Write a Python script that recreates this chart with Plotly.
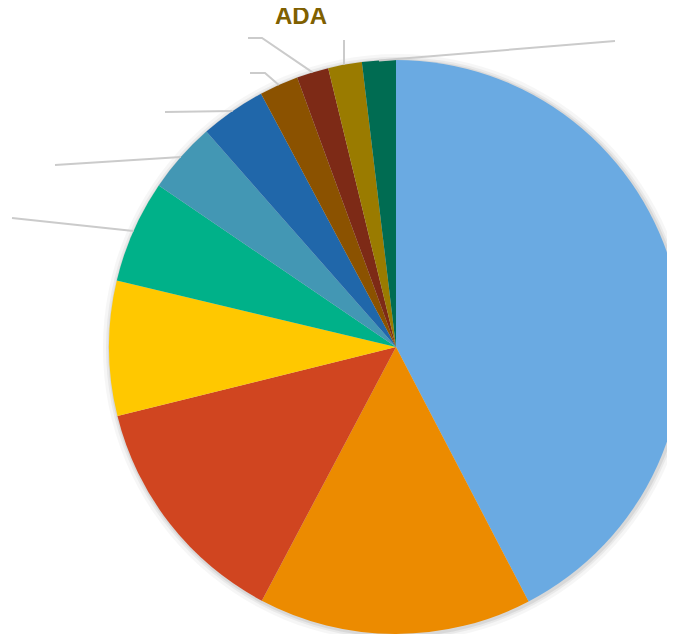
import math
import plotly.graph_objects as go

# ---- data ----
labels = ["BTC", "ETH", "USDT", "BNB", "USDC", "XRP", "BUSD", "DOGE", "SOL", "ADA", "Other"]
values = [42.4, 15.4, 13.4, 7.6, 5.8, 4.0, 3.7, 2.2, 1.8, 1.9, 1.9]
colors = ["#6AAAE2", "#EC8B00", "#D04520", "#FFC800", "#00B189", "#4397B4",
          "#2067AA", "#8B5200", "#7D2A16", "#9A7B00", "#006C52"]
shown_label = "ADA"

# ---- layout constants (pixels, in reference-screen coords) ----
OFF = 8                 # page body margin shifts the figure by this much
W, H = 700, 660         # figure larger than window; excess is cropped
CX, CY, R = 396, 347, 287

def fx(px):
    return (px - OFF) / W

def fy(py):
    return 1 - (py - OFF) / H

def dom(cx, cy, r):
    return dict(x=[fx(cx - r), min(1.0, fx(cx + r))],
                y=[max(0.0, fy(cy + r)), min(1.0, fy(cy - r))])

fig = go.Figure()

# soft shadow behind pie
for extra, alpha in [(7, 0.035), (4, 0.05), (2, 0.07)]:
    fig.add_trace(go.Pie(values=[1], labels=["s"], marker=dict(colors=[f"rgba(0,0,0,{alpha})"]),
                         domain=dom(CX + 1, CY + 1, R + extra), textinfo="none",
                         hoverinfo="skip", showlegend=False, sort=False))

fig.add_trace(go.Pie(
    labels=labels, values=values, sort=False, direction="clockwise", rotation=0,
    marker=dict(colors=colors, line=dict(width=0)),
    textinfo="none", showlegend=False, domain=dom(CX, CY, R),
))

# leader lines: start at slice mid-angle on the rim, end at label anchor
label_ends = {
    4: [(12, 218)],
    5: [(55, 165)],
    6: [(165, 112)],
    7: [(265, 73), (250, 73)],
    8: [(262, 38), (248, 38)],
    9: [(344, 40)],
    10: [(615, 41)],
}
total = sum(values)
cum = 0
mids = []
for v in values:
    mids.append((cum + v / 2) / total * 360)
    cum += v

for i, pts in label_ends.items():
    a = math.radians(mids[i])
    sx = CX + R * math.sin(a)
    sy = CY - R * math.cos(a)
    if i == 9:
        sx = pts[0][0]
    path_pts = [(sx, sy)] + pts
    d = ""
    for k, (px, py) in enumerate(path_pts):
        d += ("M" if k == 0 else "L") + f"{fx(px)},{fy(py)} "
    fig.add_shape(type="path", path=d.strip(), xref="paper", yref="paper",
                  line=dict(color="#CBCBCB", width=2))

fig.add_annotation(text=f"<b>{shown_label}</b>", x=fx(301), y=fy(15), xref="paper", yref="paper",
                   xanchor="center", yanchor="middle",
                   showarrow=False, font=dict(family="Liberation Sans, Arial", size=24, color="#7F6000"))

fig.update_layout(width=W, height=H, margin=dict(l=0, r=0, t=0, b=0),
                  paper_bgcolor="white", plot_bgcolor="white")

fig.write_html("out.html")
